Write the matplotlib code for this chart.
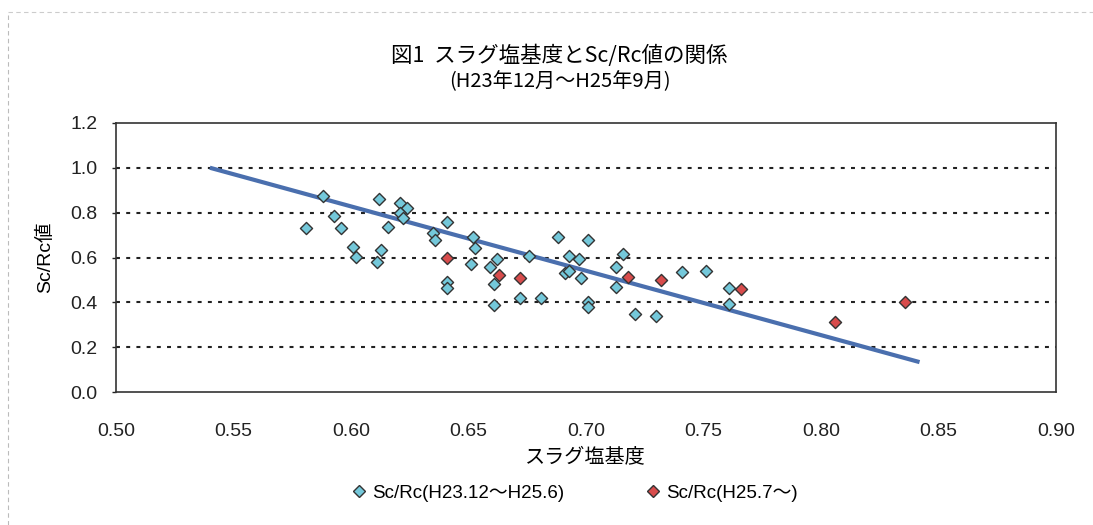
import matplotlib
matplotlib.use("Agg")
import matplotlib.pyplot as plt
from matplotlib.lines import Line2D

plt.rcParams['font.family'] = ['Liberation Sans', 'Noto Sans CJK JP', 'DejaVu Sans']

# Sc/Rc (H23.12~H25.6)
blue_x = [0.588, 0.581, 0.593, 0.596, 0.601, 0.602, 0.612, 0.611, 0.613, 0.616,
          0.621, 0.624, 0.621, 0.622, 0.635, 0.636, 0.641, 0.641, 0.641, 0.652,
          0.653, 0.651, 0.659, 0.662, 0.661, 0.661, 0.672, 0.676, 0.681, 0.688,
          0.693, 0.691, 0.693, 0.697, 0.698, 0.701, 0.701, 0.701, 0.716, 0.713,
          0.713, 0.721, 0.730, 0.741, 0.751, 0.761, 0.761]
blue_y = [0.875, 0.731, 0.783, 0.731, 0.649, 0.601, 0.860, 0.579, 0.634, 0.738,
          0.845, 0.820, 0.797, 0.775, 0.708, 0.676, 0.760, 0.489, 0.463, 0.690,
          0.644, 0.570, 0.556, 0.592, 0.481, 0.388, 0.418, 0.607, 0.418, 0.690,
          0.607, 0.533, 0.542, 0.592, 0.509, 0.676, 0.403, 0.381, 0.614, 0.559,
          0.467, 0.348, 0.339, 0.537, 0.542, 0.466, 0.392]

# Sc/Rc (H25.7~)
red_x = [0.641, 0.663, 0.672, 0.718, 0.732, 0.766, 0.806, 0.836]
red_y = [0.600, 0.522, 0.510, 0.512, 0.500, 0.458, 0.311, 0.400]

# trend line
trend_x = [0.540, 0.842]
trend_y = [1.000, 0.134]

xticks = [0.50, 0.55, 0.60, 0.65, 0.70, 0.75, 0.80, 0.85, 0.90]
yticks = [0.0, 0.2, 0.4, 0.6, 0.8, 1.0, 1.2]

fig = plt.figure(figsize=(10.93, 5.25), dpi=100)
ax = fig.add_axes([0.106, 0.253, 0.860, 0.513])

for yv in yticks[1:-1]:
    ax.axhline(yv, color='#222222', lw=1.5, linestyle=(0, (1.9, 3.0)), zorder=1)

ax.plot(trend_x, trend_y, color='#4a6fae', lw=3, solid_capstyle='butt', zorder=2)
ax.scatter(blue_x, blue_y, marker='D', s=38, color='#74c8da', edgecolor='#333333',
           linewidth=1.0, zorder=3)
ax.scatter(red_x, red_y, marker='D', s=38, color='#d84c4c', edgecolor='#333333',
           linewidth=1.0, zorder=3)

ax.set_xlim(0.50, 0.90)
ax.set_ylim(0.0, 1.2)
ax.set_xticks(xticks)
ax.set_xticklabels([f'{v:.2f}' for v in xticks])
ax.set_yticks(yticks)
ax.set_yticklabels([f'{v:.1f}' for v in yticks])
ax.tick_params(axis='both', labelsize=14, colors='#222222', length=3, width=1)
ax.tick_params(axis='x', pad=22, length=0)
ax.tick_params(axis='y', pad=10)
for s in ax.spines.values():
    s.set_color('#333333')
    s.set_linewidth(1.2)

ax.set_xlabel('スラグ塩基度', fontsize=14.5, labelpad=6)
ax.set_ylabel('Sc/Rc値', fontsize=14, labelpad=12)

fig.text(0.512, 0.893, '図1  スラグ塩基度とSc/Rc値の関係', ha='center', va='center',
         fontsize=15.5, family=['Noto Sans CJK JP'])
fig.text(0.512, 0.845, '(H23年12月～H25年9月)', ha='center', va='center',
         fontsize=14.5, family=['Noto Sans CJK JP'])

handles = [
    Line2D([], [], marker='D', linestyle='none', markersize=6, markerfacecolor='#74c8da',
           markeredgecolor='#333333', label='Sc/Rc(H23.12～H25.6)'),
    Line2D([], [], marker='D', linestyle='none', markersize=6, markerfacecolor='#d84c4c',
           markeredgecolor='#333333', label='Sc/Rc(H25.7～)'),
]
fig.legend(handles=handles, loc='center', bbox_to_anchor=(0.525, 0.061), ncol=2,
           frameon=False, fontsize=13.5, handletextpad=0.2, columnspacing=4.2,
           handlelength=1.0)

# faint border of the chart area
fig.add_artist(Line2D([0.007, 0.007], [0.0, 0.977], transform=fig.transFigure,
                      color='#bbbbbb', lw=0.8, linestyle=(0, (4, 3))))
fig.add_artist(Line2D([0.007, 1.0], [0.977, 0.977], transform=fig.transFigure,
                      color='#cccccc', lw=0.8, linestyle=(0, (4, 3))))

fig.savefig('out.png', dpi=100)
